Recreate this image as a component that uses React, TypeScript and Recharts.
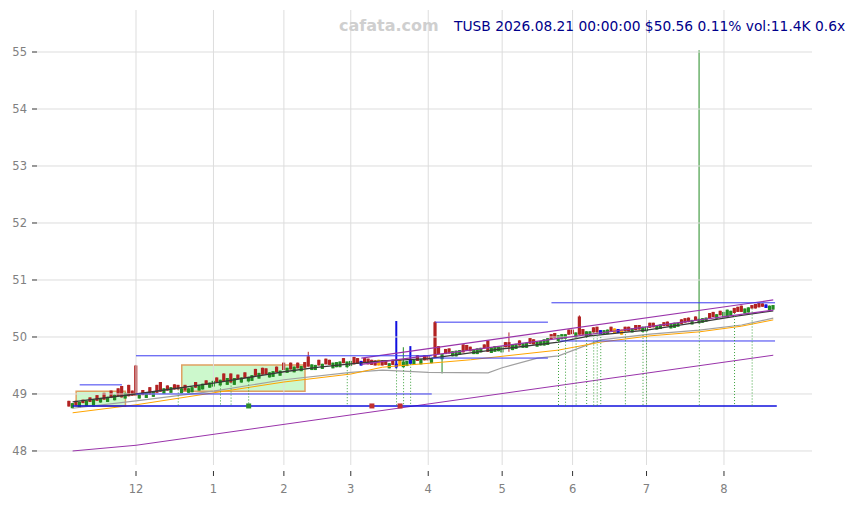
import React from 'react';
import {
  ComposedChart,
  Bar,
  Line,
  XAxis,
  YAxis,
  ReferenceLine,
  ReferenceArea,
  ReferenceDot,
} from 'recharts';

// daily candles, index 0 = 2025-11-03 ... index 200 = 2026-08-21
const opens = [
  48.88, 48.75, 48.88, 48.76, 48.90, 48.79, 48.94, 48.78, 48.98, 48.85,
  49.02, 48.86, 49.06, 48.89, 49.10, 49.14, 48.92, 49.16, 49.06, 49.50,
  48.92, 49.07, 48.93, 49.12, 48.95, 49.16, 49.21, 49.00, 49.15, 49.02,
  49.17, 49.16, 49.01, 49.16, 49.02, 49.03, 49.21, 49.06, 49.08, 49.24,
  49.11, 49.13, 49.29, 49.15, 49.36, 49.16, 49.36, 49.16, 49.34, 49.20,
  49.38, 49.22, 49.23, 49.44, 49.27, 49.46, 49.45, 49.29, 49.30, 49.48,
  49.32, 49.55, 49.37, 49.55, 49.38, 49.55, 49.40, 49.56, 49.66, 49.42,
  49.42, 49.60, 49.44, 49.62, 49.60, 49.45, 49.47, 49.47, 49.63, 49.47,
  49.49, 49.65, 49.63, 49.50, 49.63, 49.62, 49.60, 49.59, 49.60, 49.59,
  49.59, 49.45, 49.60, 49.47, 49.60, 49.47, 49.49, 49.53, 49.51, 49.68,
  49.52, 49.68, 49.68, 49.54, 50.26, 49.84, 49.61, 49.79, 49.80, 49.66,
  49.66, 49.69, 49.87, 49.86, 49.83, 49.70, 49.70, 49.73, 49.87, 49.94,
  49.72, 49.74, 49.75, 49.73, 49.91, 49.91, 49.77, 49.79, 49.94, 49.81,
  49.81, 49.98, 49.96, 49.83, 49.85, 49.85, 49.86, 50.05, 50.07, 49.93,
  49.96, 49.97, 50.13, 50.13, 49.99, 50.36, 50.14, 50.00, 50.02, 50.17,
  50.18, 50.05, 50.04, 50.05, 50.18, 50.15, 50.07, 50.13, 50.18, 50.18,
  50.08, 50.21, 50.21, 50.09, 50.10, 50.25, 50.25, 50.13, 50.14, 50.26,
  50.27, 50.15, 50.16, 50.18, 50.31, 50.33, 50.34, 50.22, 50.36, 50.24,
  50.25, 50.27, 50.42, 50.44, 50.32, 50.46, 50.34, 50.35, 50.37, 50.51,
  50.53, 50.55, 50.41, 50.43, 50.56, 50.58, 50.60, 50.59, 50.51, 50.47,
  50.48,
];

const closes = [
  48.78, 48.84, 48.80, 48.86, 48.84, 48.88, 48.86, 48.90, 48.88, 48.93,
  48.90, 48.95, 48.93, 48.99, 48.96, 48.94, 49.02, 48.96, 48.97, 48.97,
  49.00, 48.98, 49.03, 48.99, 49.04, 49.02, 49.04, 49.10, 49.06, 49.12,
  49.08, 49.08, 49.10, 49.06, 49.10, 49.12, 49.11, 49.15, 49.18, 49.16,
  49.20, 49.23, 49.21, 49.25, 49.22, 49.28, 49.20, 49.28, 49.26, 49.29,
  49.28, 49.30, 49.33, 49.32, 49.37, 49.34, 49.35, 49.38, 49.40, 49.38,
  49.41, 49.42, 49.46, 49.43, 49.48, 49.45, 49.49, 49.46, 49.48, 49.52,
  49.51, 49.50, 49.53, 49.52, 49.51, 49.55, 49.56, 49.57, 49.54, 49.57,
  49.58, 49.52, 49.53, 49.58, 49.54, 49.52, 49.51, 49.50, 49.50, 49.50,
  49.51, 49.54, 49.51, 49.53, 49.50, 49.57, 49.58, 49.60, 49.60, 49.58,
  49.61, 49.59, 49.59, 49.63, 49.64, 49.70, 49.70, 49.70, 49.71, 49.75,
  49.76, 49.77, 49.73, 49.76, 49.75, 49.79, 49.80, 49.81, 49.80, 49.74,
  49.82, 49.84, 49.83, 49.84, 49.82, 49.82, 49.86, 49.88, 49.85, 49.89,
  49.90, 49.88, 49.87, 49.92, 49.93, 49.96, 49.98, 49.96, 49.98, 50.03,
  50.05, 50.05, 50.04, 50.05, 50.08, 50.04, 50.04, 50.10, 50.10, 50.08,
  50.08, 50.12, 50.12, 50.13, 50.10, 50.06, 50.14, 50.04, 50.10, 50.10,
  50.15, 50.12, 50.13, 50.18, 50.18, 50.16, 50.17, 50.21, 50.22, 50.19,
  50.19, 50.23, 50.25, 50.25, 50.23, 50.25, 50.26, 50.30, 50.28, 50.32,
  50.33, 50.34, 50.33, 50.35, 50.40, 50.38, 50.44, 50.48, 50.46, 50.42,
  50.44, 50.44, 50.50, 50.52, 50.50, 50.50, 50.52, 50.53, 50.57, 50.55,
  50.56,
];

// visible wicks beyond the body: [day index, price]
const highWicks: [number, number][] = [
  [19, 49.51], [68, 49.74], [93, 50.28], [95, 49.82], [97, 49.84],
  [104, 50.28], [125, 50.08], [145, 50.38], [179, 55.03],
];
const lowWicks: [number, number][] = [
  [93, 49.45], [106, 49.36], [125, 49.74],
];

const blueDays = [83, 93, 97, 151, 156, 198];
const orangeDays = [88, 94, 155, 157];

const monthTicks = [19, 41, 61, 80, 102, 123, 143, 164, 186];
const monthLabels = ['12', '1', '2', '3', '4', '5', '6', '7', '8'];
const priceTicks = [48, 49, 50, 51, 52, 53, 54, 55];
const xDomain: [number, number] = [-9.12, 211];
const yDomain: [number, number] = [47.754, 55.737];

// [day index, price]
const darkAvg: [number, number][] = [
  [1, 48.86], [19, 49.0], [41, 49.19], [61, 49.39], [71, 49.47], [80, 49.53],
  [89, 49.58], [102, 49.62], [114, 49.72], [123, 49.79], [139, 49.91],
  [148, 50.02], [164, 50.12], [179, 50.26], [190, 50.37], [200, 50.46],
];
const grayAvg: [number, number][] = [
  [1, 48.75], [19, 48.88], [41, 49.05], [61, 49.25], [80, 49.38], [89, 49.42],
  [102, 49.38], [119, 49.37], [123, 49.46], [133, 49.63], [139, 49.67],
  [151, 49.95], [165, 50.05], [179, 50.12], [191, 50.21], [200, 50.33],
];
const orangeAvg: [number, number][] = [
  [1, 48.67], [19, 48.81], [41, 49.02], [61, 49.21], [80, 49.35], [89, 49.47],
  [114, 49.6], [139, 49.77], [151, 49.91], [165, 50.02],
  [179, 50.09], [191, 50.19], [200, 50.3],
];
const channelTop: [number, number][] = [[83, 49.63], [200, 50.65]];
const channelBottom: [number, number][] = [[83, 49.52], [200, 50.47]];
const longTrend: [number, number][] = [[1, 48.0], [19, 48.1], [200, 49.68]];

// [from day, to day, price]
const levels: [number, number, number][] = [
  [3, 15, 49.16],
  [19, 103, 49.67],
  [103, 136, 49.63],
  [104, 136, 50.26],
  [19, 103, 49.0],
  [1, 201, 48.79],
  [137, 200.5, 50.6],
  [139.5, 200.5, 49.93],
];
// [from day, to day, low, high]
const boxes: [number, number, number, number][] = [
  [2, 16, 48.79, 49.05],
  [32, 67, 49.05, 49.51],
];
const signalDays = [31, 43, 46, 51, 79, 93, 95, 97, 139, 141, 144, 147, 149, 150, 151, 158, 163, 164, 179, 189, 194];
const signalFloor = 48.79;
const buyDays = [51];
const sellDays = [86, 94];

const candles = opens.map((o, i) => {
  const c = closes[i];
  const hw = highWicks.find((w) => w[0] === i);
  const lw = lowWicks.find((w) => w[0] === i);
  const hi = Math.max(o, c, hw ? hw[1] : -Infinity);
  const lo = Math.min(o, c, lw ? lw[1] : Infinity);
  let color = c >= o ? '#228b22' : '#b22222';
  if (blueDays.includes(i)) color = '#1010e0';
  if (orangeDays.includes(i)) color = '#ffa500';
  return { i, o, c, hi, lo, range: [lo, hi], color, blue: blueDays.includes(i) };
});

const toPts = (pts: [number, number][]) => pts.map(([i, v]) => ({ i, v }));

const Candle = (props: any) => {
  const { x, y, width, height, payload } = props;
  if (x == null || y == null || !payload) return null;
  const top = Math.min(y, y + height);
  const bottom = Math.max(y, y + height);
  const span = payload.hi - payload.lo;
  const k = span > 0 ? (bottom - top) / span : 0;
  const bTop = top + (payload.hi - Math.max(payload.o, payload.c)) * k;
  const bBot = top + (payload.hi - Math.min(payload.o, payload.c)) * k;
  const cx = x + width / 2;
  return (
    <g>
      <line x1={cx} x2={cx} y1={top} y2={bottom} stroke={payload.color} strokeWidth={payload.blue ? 2 : 1} />
      <rect x={cx - 1.6} y={bTop} width={3.2} height={Math.max(1, bBot - bTop)} fill={payload.color} />
    </g>
  );
};

const Mark = (color: string) => (props: any) => {
  const { cx, cy } = props;
  if (cx == null || cy == null) return null;
  return <rect x={cx - 2.5} y={cy - 2.5} width={5} height={5} fill={color} />;
};

const font = 'DejaVu Sans, Verdana, sans-serif';

const LeftTick = ({ x, y, payload }: any) => (
  <g>
    <line x1={x - 5} x2={x} y1={y} y2={y} stroke="#333" />
    <text x={x - 10} y={y} dy={4.2} textAnchor="end" fill="#808080" fontSize={11.5} fontFamily={font}>
      {payload.value}
    </text>
  </g>
);

const RightTick = ({ x, y, payload }: any) => (
  <text x={x + 11} y={y} dy={4.2} textAnchor="start" fill="#808080" fontSize={11.5} fontFamily={font}>
    {payload.value}
  </text>
);

const BottomTick = ({ x, y, payload }: any) => (
  <g>
    <line x1={x} x2={x} y1={y + 6} y2={y + 11} stroke="#333" />
    <text x={x} y={y + 28} textAnchor="middle" fill="#808080" fontSize={11.5} fontFamily={font}>
      {monthLabels[monthTicks.indexOf(payload.value)]}
    </text>
  </g>
);

export default function App() {
  return (
    <div style={{ position: 'absolute', left: 0, top: 0, width: 856, height: 505, background: '#fff' }}>
      <ComposedChart
        width={856}
        height={505}
        data={candles}
        accessibilityLayer={false}
        margin={{ top: 10, right: 0, bottom: 0, left: 0 }}
      >
        <XAxis
          dataKey="i"
          type="number"
          domain={xDomain}
          ticks={monthTicks}
          interval={0}
          height={40}
          axisLine={false}
          tickLine={false}
          tickSize={0}
          tickMargin={0}
          tick={<BottomTick />}
        />
        <YAxis
          type="number"
          domain={yDomain}
          ticks={priceTicks}
          interval={0}
          width={37}
          axisLine={false}
          tickLine={false}
          tickSize={0}
          tickMargin={0}
          tick={<LeftTick />}
        />
        <YAxis
          yAxisId="r"
          orientation="right"
          type="number"
          domain={yDomain}
          ticks={priceTicks}
          interval={0}
          width={44}
          axisLine={false}
          tickLine={false}
          tickSize={0}
          tickMargin={0}
          tick={<RightTick />}
        />

        {priceTicks.map((p) => (
          <ReferenceLine key={'gy' + p} y={p} stroke="#dddddd" />
        ))}
        {monthTicks.map((d) => (
          <ReferenceLine key={'gx' + d} x={d} stroke="#dddddd" />
        ))}

        {boxes.map(([a, b, lo, hi], k) => (
          <ReferenceArea
            key={'box' + k}
            x1={a}
            x2={b}
            y1={lo}
            y2={hi}
            fill="#ccf8cc"
            fillOpacity={1}
            stroke="#e0a060"
            strokeWidth={1.5}
          />
        ))}

        <Line data={toPts(longTrend)} dataKey="v" stroke="#9933aa" strokeWidth={1} dot={false} isAnimationActive={false} />
        <Line data={toPts(grayAvg)} dataKey="v" stroke="#a0a0a0" strokeWidth={1.2} dot={false} isAnimationActive={false} />
        <Line data={toPts(orangeAvg)} dataKey="v" stroke="#ffa500" strokeWidth={1} dot={false} isAnimationActive={false} />
        <Line data={toPts(darkAvg)} dataKey="v" stroke="#383838" strokeWidth={1.3} dot={false} isAnimationActive={false} />
        <Line data={toPts(channelTop)} dataKey="v" stroke="#9933aa" strokeWidth={1.2} dot={false} isAnimationActive={false} />
        <Line data={toPts(channelBottom)} dataKey="v" stroke="#9933aa" strokeWidth={1.2} dot={false} isAnimationActive={false} />

        {levels.map(([a, b, p], k) => (
          <ReferenceLine
            key={'lvl' + k}
            segment={[{ x: a, y: p }, { x: b, y: p }]}
            stroke={p === signalFloor ? '#1010dd' : '#3a3af0'}
            strokeWidth={p === signalFloor ? 1.5 : 1}
          />
        ))}

        {signalDays.map((d) => (
          <ReferenceLine
            key={'sig' + d}
            segment={[{ x: d, y: candles[d].lo }, { x: d, y: signalFloor }]}
            stroke="#3aa03a"
            strokeDasharray="1 2"
            strokeWidth={1}
          />
        ))}

        <Bar dataKey="range" barSize={3} shape={<Candle />} isAnimationActive={false} />

        {buyDays.map((d) => (
          <ReferenceDot key={'buy' + d} x={d} y={signalFloor} shape={Mark('#2e8b2e')} />
        ))}
        {sellDays.map((d) => (
          <ReferenceDot key={'sell' + d} x={d} y={signalFloor} shape={Mark('#c03030')} />
        ))}
      </ComposedChart>
      <svg
        width={856}
        height={505}
        style={{ position: 'absolute', left: 0, top: 0, pointerEvents: 'none' }}
      >
        <text x={339} y={30.7} fill="#cfcfcf" fontSize={16} fontWeight="bold" fontFamily={font}>
          cafata.com
        </text>
        <text x={454} y={30.7} fill="#00008b" fontSize={13.8} fontFamily={font}>
          TUSB 2026.08.21 00:00:00 $50.56 0.11% vol:11.4K 0.6x
        </text>
      </svg>
    </div>
  );
}
